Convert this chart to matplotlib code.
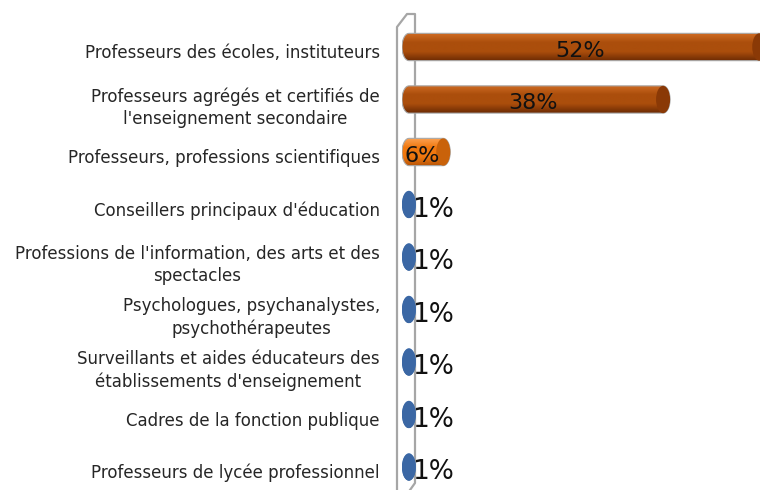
import numpy as np
import matplotlib.pyplot as plt
from matplotlib.path import Path
from matplotlib.patches import PathPatch, Ellipse
from matplotlib.lines import Line2D
from matplotlib.colors import LinearSegmentedColormap
from matplotlib.transforms import ScaledTranslation

categories = [
    "Professeurs des écoles, instituteurs",
    "Professeurs agrégés et certifiés de\nl'enseignement secondaire",
    "Professeurs, professions scientifiques",
    "Conseillers principaux d'éducation",
    "Professions de l'information, des arts et des\nspectacles",
    "Psychologues, psychanalystes,\npsychothérapeutes",
    "Surveillants et aides éducateurs des\nétablissements d'enseignement",
    "Cadres de la fonction publique",
    "Professeurs de lycée professionnel",
]
values = [52, 38, 6, 1, 1, 1, 1, 1, 1]
labels = ["52%", "38%", "6%", "1%", "1%", "1%", "1%", "1%", "1%"]

# (top, mid, bottom, cap) colours per group
brown = ("#d06c24", "#ab4e0c", "#6d2b03", "#8a3906")
orange = ("#fba152", "#f0780f", "#b65406", "#c9620a")
blue = ("#86acdc", "#4a7ebb", "#2a5690", "#3b67a4")
palette = [brown, brown, orange] + [blue] * 6

plt.rcParams['font.family'] = ['DejaVu Sans']

fig = plt.figure(figsize=(7.6, 4.9), dpi=100)
W, H = 760, 490
px_per = 6.87
ax = fig.add_axes([402 / W, 0, (W - 402) / W, 1])
ax.set_facecolor('none')
ax.set_xlim(0, (W - 402) / px_per)
# category i centred at pixel 47 + 52.5*i from the top
ax.set_ylim((H - 47) / 52.5, -47 / 52.5)
for s in ax.spines.values():
    s.set_visible(False)
ax.set_xticks([])

bh = 0.52
a = 7.0 / px_per  # half width of the elliptical caps

for i, (v, cols) in enumerate(zip(values, palette)):
    top, bot = i - bh / 2, i + bh / 2
    t1 = np.linspace(np.pi / 2, 3 * np.pi / 2, 30)
    t2 = np.linspace(-np.pi / 2, np.pi / 2, 30)
    left = np.column_stack([a + a * np.cos(t1), i - bh / 2 * np.sin(t1)])
    right = np.column_stack([v + a * np.cos(t2), i - bh / 2 * np.sin(t2)])
    path = Path(np.vstack([left, right, left[:1]]))
    # vertical gradient for cylinder shading
    cmap = LinearSegmentedColormap.from_list("c", [cols[0], cols[1], cols[1], cols[2]])
    grad = np.linspace(0, 1, 64).reshape(-1, 1)
    im = ax.imshow(grad, cmap=cmap, aspect='auto', extent=(0, v + a, bot, top),
                   interpolation='bilinear', zorder=2)
    patch = PathPatch(path, facecolor='none', edgecolor='#a8a8a8' if v > 5 else 'none',
                      lw=0.8, zorder=3)
    ax.add_patch(patch)
    im.set_clip_path(patch)
    ax.add_patch(Ellipse((v, i), 2 * a, bh, facecolor=cols[3], edgecolor='none', zorder=4))

    if v >= 5:
        ax.text(v / 2, i + 0.07, labels[i], ha='center', va='center',
                fontsize=16, color='#111111', zorder=5)
    else:
        ax.text(v + a * 0.4, i + 0.1, labels[i], ha='left', va='center',
                fontsize=19, color='#111111', zorder=5)

ax.set_yticks(range(len(categories)))
ax.set_yticklabels(categories, fontsize=12, color='#262626', multialignment='center',
                   linespacing=1.3)
ax.tick_params(axis='y', length=0, pad=16)
shift = ScaledTranslation(0, -4 / 100, fig.dpi_scale_trans)
for lab in ax.get_yticklabels():
    lab.set_transform(lab.get_transform() + shift)

# back wall outline (pixels from the top-left), behind the bars
wall = [(397, 490), (397, 27), (407, 14), (415, 14), (415, 483), (410, 490)]
wx = [p[0] / W for p in wall]
wy = [1 - p[1] / H for p in wall]
fig.add_artist(Line2D(wx, wy, color='#a6a6a6', lw=1.6, transform=fig.transFigure,
                      zorder=-1))

fig.savefig("out.png", dpi=100)
